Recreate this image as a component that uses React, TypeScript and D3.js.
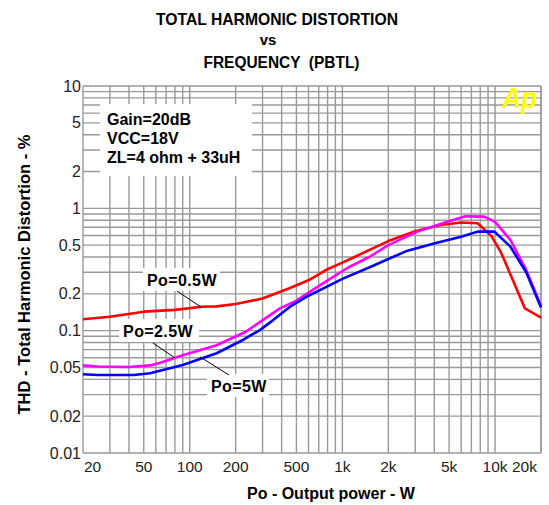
import React from "react";
import * as d3 from "d3";

// ---- data ----
const freq05 = [20, 30, 50, 80, 120, 150, 200, 300, 450, 600, 800, 1000, 1200, 2000, 3000, 4400, 6000, 7700, 9500, 11000, 15700, 20000];
const thd05 = [0.124, 0.13, 0.143, 0.148, 0.157, 0.158, 0.165, 0.183, 0.222, 0.258, 0.318, 0.36, 0.4, 0.54, 0.65, 0.73, 0.765, 0.755, 0.59, 0.43, 0.152, 0.128];

const freq25 = [20, 25, 40, 55, 65, 90, 150, 230, 390, 500, 600, 830, 1100, 1500, 2000, 3100, 4600, 6400, 8500, 10000, 12600, 16000, 20000];
const thd25 = [0.052, 0.051, 0.0505, 0.052, 0.055, 0.063, 0.076, 0.097, 0.152, 0.176, 0.205, 0.265, 0.33, 0.4, 0.5, 0.645, 0.76, 0.86, 0.856, 0.775, 0.552, 0.314, 0.16];

const freq5 = [20, 25, 43, 55, 90, 150, 223, 288, 352, 454, 600, 830, 1000, 1550, 2000, 2600, 4100, 6000, 7700, 9900, 12600, 16000, 20000];
const thd5 = [0.044, 0.0434, 0.0434, 0.0448, 0.0524, 0.0654, 0.0839, 0.101, 0.122, 0.157, 0.193, 0.236, 0.265, 0.335, 0.385, 0.445, 0.52, 0.585, 0.645, 0.645, 0.486, 0.3, 0.155];

const xTickValues = [20, 50, 100, 200, 500, 1000, 2000, 5000, 10000, 20000];
const xTickLabels = ["20", "50", "100", "200", "500", "1k", "2k", "5k", "10k", "20k"];
const yTickValues = [0.01, 0.02, 0.05, 0.1, 0.2, 0.5, 1, 2, 5, 10];
const yTickLabels = ["0.01", "0.02", "0.05", "0.1", "0.2", "0.5", "1", "2", "5", "10"];

const legendLines = ["Gain=20dB", "VCC=18V", "ZL=4 ohm + 33uH"];
const seriesNames = ["Po=0.5W", "Po=2.5W", "Po=5W"];

// annotation anchors in data coordinates: [labelFreq, labelThd, leaderStartF, leaderStartT, leaderEndF, leaderEndT]
const annot05 = [52.5, 0.232, 82.5, 0.211, 118.6, 0.156];
const annot25 = [36.6, 0.0888, 57.4, 0.0793, 80.1, 0.0598];
const annot5 = [137.8, 0.0315, 117, 0.061, 180.8, 0.0434];

const FONT = "'Liberation Sans', Arial, Helvetica, sans-serif";

export default function App() {
  const W = 549, H = 505;
  const x0 = 83, x1 = 541, y0 = 86, y1 = 453;
  const x = d3.scaleLog().domain([20, 20000]).range([x0, x1]);
  const y = d3.scaleLog().domain([0.01, 10]).range([y1, y0]);

  const xGrid: number[] = [];
  for (let dec = 10; dec <= 10000; dec *= 10) {
    for (let m = 1; m <= 9; m++) {
      const v = dec * m;
      if (v >= 20 && v <= 20000) xGrid.push(v);
    }
  }
  xGrid.push(20000);
  const yGrid: number[] = [];
  for (let dec = 0.01; dec < 10; dec *= 10) {
    for (let m = 1; m <= 9; m++) yGrid.push(dec * m);
  }
  yGrid.push(10);

  const line = d3
    .line<[number, number]>()
    .x((d) => x(d[0]))
    .y((d) => y(d[1]));

  const series = [
    { f: freq05, t: thd05, color: "#ff0000" },
    { f: freq25, t: thd25, color: "#ff00ff" },
    { f: freq5, t: thd5, color: "#0000ff" },
  ];

  const annots = [
    { a: annot05, name: seriesNames[0], w: 77 },
    { a: annot25, name: seriesNames[1], w: 80 },
    { a: annot5, name: seriesNames[2], w: 62 },
  ];

  const gridColor = "#999999";

  return (
    <svg
      width={W}
      height={H}
      style={{ position: "absolute", left: 0, top: 0, background: "#fff" }}
      fontFamily={FONT}
    >
      <rect x={0} y={0} width={W} height={H} fill="#fff" />
      {/* title */}
      <text x={277} y={25} textAnchor="middle" fontWeight="bold" fontSize={16.5} textLength={242} lengthAdjust="spacingAndGlyphs">
        TOTAL HARMONIC DISTORTION
      </text>
      <text x={268} y={45} textAnchor="middle" fontWeight="bold" fontSize={15}>
        vs
      </text>
      <text x={281.5} y={68} textAnchor="middle" fontWeight="bold" fontSize={16} textLength={156} lengthAdjust="spacingAndGlyphs" xmlSpace="preserve">
        FREQUENCY  (PBTL)
      </text>

      {/* grid */}
      <g stroke={gridColor} strokeWidth={1.4}>
        {xGrid.map((v, i) => (
          <line key={"xg" + i} x1={x(v)} x2={x(v)} y1={y0} y2={y1} />
        ))}
        {yGrid.map((v, i) => (
          <line key={"yg" + i} x1={x0} x2={x1} y1={y(v)} y2={y(v)} />
        ))}
      </g>

      {/* legend box */}
      <rect x={x0 + 17} y={y0 + 18} width={152} height={72} fill="#fff" />
      {legendLines.map((s, i) => (
        <text key={"lg" + i} x={x0 + 24} y={y0 + 39 + i * 19} fontWeight="bold" fontSize={16}>
          {s}
        </text>
      ))}

      {/* Ap logo */}
      <text x={x1 - 4} y={108} textAnchor="end" fontWeight="bold" fontStyle="italic" fontSize={29} fill="#ffff00" textLength={35} lengthAdjust="spacingAndGlyphs">
        Ap
      </text>

      {/* annotation boxes */}
      {annots.map((an, i) => (
        <rect key={"ab" + i} x={x(an.a[0]) - 4} y={y(an.a[1]) - 18} width={an.w} height={23} fill="#fff" />
      ))}

      {/* curves */}
      {series.map((s, i) => (
        <path
          key={"s" + i}
          d={line(s.f.map((f, j) => [f, s.t[j]] as [number, number])) || ""}
          fill="none"
          stroke={s.color}
          strokeWidth={2.6}
          strokeLinejoin="round"
        />
      ))}

      {/* annotation text and leaders */}
      {annots.map((an, i) => (
        <g key={"an" + i}>
          <text x={x(an.a[0])} y={y(an.a[1])} fontWeight="bold" fontSize={16} letterSpacing={0.4}>
            {an.name}
          </text>
          <line x1={x(an.a[2])} y1={y(an.a[3])} x2={x(an.a[4])} y2={y(an.a[5])} stroke="#000" strokeWidth={1} />
        </g>
      ))}

      {/* y tick labels */}
      {yTickValues.map((v, i) => (
        <text key={"yt" + i} x={x0 - 2} y={y(v) + 5.5} textAnchor="end" fontSize={16} fill="#222">
          {yTickLabels[i]}
        </text>
      ))}

      {/* x tick labels */}
      {xTickValues.map((v, i) => {
        const first = i === 0;
        const last = i === xTickValues.length - 1;
        return (
          <text
            key={"xt" + i}
            x={first ? x(v) + 1 : last ? x(v) - 4 : x(v)}
            y={472}
            textAnchor={first ? "start" : last ? "end" : "middle"}
            fontSize={15.5}
            fill="#222"
          >
            {xTickLabels[i]}
          </text>
        );
      })}

      {/* axis titles */}
      <text
        transform={`translate(30, ${(y0 + y1) / 2 + 5}) rotate(-90)`}
        textAnchor="middle"
        fontWeight="bold"
        fontSize={16}
        textLength={280}
        lengthAdjust="spacingAndGlyphs"
      >
        THD - Total Harmonic Distortion - %
      </text>
      <text x={247} y={499} fontWeight="bold" fontSize={16}>
        Po - Output power - W
      </text>
    </svg>
  );
}
